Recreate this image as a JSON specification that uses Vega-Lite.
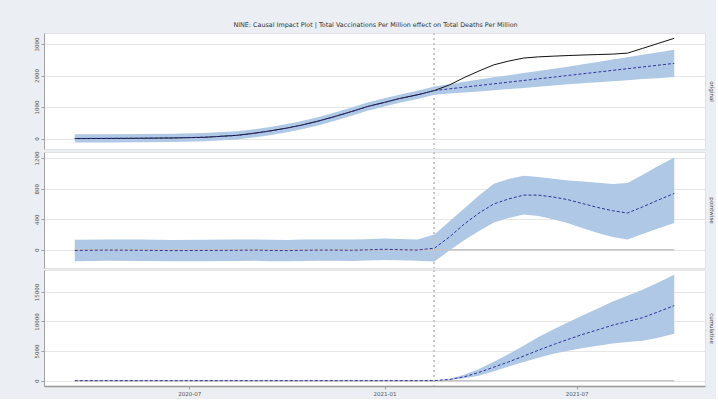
{
  "$schema": "https://vega.github.io/schema/vega-lite/v6.json",
  "background": "#ebeff3",
  "padding": {"top": 21, "left": 5, "right": 2, "bottom": 2},
  "title": {"text": "NINE: Causal Impact Plot | Total Vaccinations Per Million effect on Total Deaths Per Million", "fontSize": 6.4, "fontWeight": "normal", "color": "#333333", "font": "DejaVu Sans", "anchor": "middle", "offset": 4, "dx": 16},
  "data": {"values": [
    {"panel":"original","date":"2020-03-15","actual":0,"pred":5,"lo":-125,"hi":135},
    {"panel":"original","date":"2020-04-15","actual":4,"pred":8,"lo":-122,"hi":138},
    {"panel":"original","date":"2020-05-15","actual":10,"pred":12,"lo":-118,"hi":142},
    {"panel":"original","date":"2020-06-15","actual":20,"pred":22,"lo":-108,"hi":152},
    {"panel":"original","date":"2020-07-15","actual":40,"pred":45,"lo":-85,"hi":175},
    {"panel":"original","date":"2020-08-15","actual":105,"pred":100,"lo":-30,"hi":230},
    {"panel":"original","date":"2020-09-01","actual":175,"pred":170,"lo":40,"hi":300},
    {"panel":"original","date":"2020-09-15","actual":245,"pred":240,"lo":110,"hi":370},
    {"panel":"original","date":"2020-10-01","actual":335,"pred":330,"lo":200,"hi":460},
    {"panel":"original","date":"2020-10-15","actual":430,"pred":425,"lo":295,"hi":555},
    {"panel":"original","date":"2020-11-01","actual":570,"pred":565,"lo":435,"hi":695},
    {"panel":"original","date":"2020-11-15","actual":700,"pred":700,"lo":570,"hi":830},
    {"panel":"original","date":"2020-12-01","actual":860,"pred":855,"lo":725,"hi":985},
    {"panel":"original","date":"2020-12-15","actual":1010,"pred":1005,"lo":875,"hi":1135},
    {"panel":"original","date":"2021-01-01","actual":1150,"pred":1150,"lo":1020,"hi":1280},
    {"panel":"original","date":"2021-01-15","actual":1270,"pred":1265,"lo":1135,"hi":1395},
    {"panel":"original","date":"2021-02-01","actual":1390,"pred":1390,"lo":1260,"hi":1520},
    {"panel":"original","date":"2021-02-17","actual":1525,"pred":1524,"lo":1394,"hi":1654},
    {"panel":"original","date":"2021-03-03","actual":1700,"pred":1578,"lo":1428,"hi":1728},
    {"panel":"original","date":"2021-03-17","actual":1935,"pred":1631,"lo":1461,"hi":1801},
    {"panel":"original","date":"2021-03-31","actual":2145,"pred":1685,"lo":1495,"hi":1875},
    {"panel":"original","date":"2021-04-14","actual":2340,"pred":1738,"lo":1533,"hi":1943},
    {"panel":"original","date":"2021-04-28","actual":2460,"pred":1791,"lo":1571,"hi":2011},
    {"panel":"original","date":"2021-05-12","actual":2555,"pred":1844,"lo":1609,"hi":2079},
    {"panel":"original","date":"2021-05-26","actual":2593,"pred":1897,"lo":1647,"hi":2147},
    {"panel":"original","date":"2021-06-09","actual":2615,"pred":1950,"lo":1685,"hi":2215},
    {"panel":"original","date":"2021-06-23","actual":2635,"pred":2003,"lo":1723,"hi":2283},
    {"panel":"original","date":"2021-07-07","actual":2652,"pred":2057,"lo":1757,"hi":2357},
    {"panel":"original","date":"2021-07-21","actual":2666,"pred":2110,"lo":1790,"hi":2430},
    {"panel":"original","date":"2021-08-04","actual":2680,"pred":2165,"lo":1820,"hi":2510},
    {"panel":"original","date":"2021-08-18","actual":2712,"pred":2218,"lo":1853,"hi":2583},
    {"panel":"original","date":"2021-09-01","actual":2860,"pred":2272,"lo":1887,"hi":2657},
    {"panel":"original","date":"2021-09-15","actual":3010,"pred":2325,"lo":1915,"hi":2735},
    {"panel":"original","date":"2021-10-01","actual":3182,"pred":2386,"lo":1951,"hi":2821},

    {"panel":"pointwise","date":"2020-03-15","pred":-10,"lo":-150,"hi":130},
    {"panel":"pointwise","date":"2020-04-15","pred":-5,"lo":-145,"hi":135},
    {"panel":"pointwise","date":"2020-05-15","pred":-8,"lo":-148,"hi":132},
    {"panel":"pointwise","date":"2020-06-15","pred":-12,"lo":-152,"hi":128},
    {"panel":"pointwise","date":"2020-07-15","pred":-10,"lo":-150,"hi":130},
    {"panel":"pointwise","date":"2020-08-15","pred":-8,"lo":-148,"hi":132},
    {"panel":"pointwise","date":"2020-09-01","pred":-5,"lo":-145,"hi":135},
    {"panel":"pointwise","date":"2020-09-15","pred":-10,"lo":-150,"hi":130},
    {"panel":"pointwise","date":"2020-10-01","pred":-12,"lo":-152,"hi":128},
    {"panel":"pointwise","date":"2020-10-15","pred":-8,"lo":-148,"hi":132},
    {"panel":"pointwise","date":"2020-11-01","pred":-5,"lo":-145,"hi":135},
    {"panel":"pointwise","date":"2020-11-15","pred":-5,"lo":-145,"hi":135},
    {"panel":"pointwise","date":"2020-12-01","pred":-8,"lo":-148,"hi":132},
    {"panel":"pointwise","date":"2020-12-15","pred":-2,"lo":-142,"hi":138},
    {"panel":"pointwise","date":"2021-01-01","pred":5,"lo":-135,"hi":145},
    {"panel":"pointwise","date":"2021-01-15","pred":0,"lo":-140,"hi":140},
    {"panel":"pointwise","date":"2021-02-01","pred":-5,"lo":-145,"hi":135},
    {"panel":"pointwise","date":"2021-02-17","pred":20,"lo":-155,"hi":200},
    {"panel":"pointwise","date":"2021-03-03","pred":165,"lo":-10,"hi":370},
    {"panel":"pointwise","date":"2021-03-17","pred":335,"lo":125,"hi":540},
    {"panel":"pointwise","date":"2021-03-31","pred":480,"lo":245,"hi":710},
    {"panel":"pointwise","date":"2021-04-14","pred":600,"lo":355,"hi":865},
    {"panel":"pointwise","date":"2021-04-28","pred":665,"lo":415,"hi":925},
    {"panel":"pointwise","date":"2021-05-12","pred":715,"lo":460,"hi":970},
    {"panel":"pointwise","date":"2021-05-26","pred":715,"lo":441,"hi":952},
    {"panel":"pointwise","date":"2021-06-09","pred":690,"lo":400,"hi":930},
    {"panel":"pointwise","date":"2021-06-23","pred":655,"lo":345,"hi":905},
    {"panel":"pointwise","date":"2021-07-07","pred":603,"lo":280,"hi":892},
    {"panel":"pointwise","date":"2021-07-21","pred":553,"lo":218,"hi":877},
    {"panel":"pointwise","date":"2021-08-04","pred":510,"lo":165,"hi":862},
    {"panel":"pointwise","date":"2021-08-18","pred":480,"lo":135,"hi":875},
    {"panel":"pointwise","date":"2021-09-01","pred":560,"lo":205,"hi":980},
    {"panel":"pointwise","date":"2021-09-15","pred":645,"lo":275,"hi":1090},
    {"panel":"pointwise","date":"2021-10-01","pred":737,"lo":351,"hi":1209},

    {"panel":"cumulative","date":"2020-03-15","pred":0},
    {"panel":"cumulative","date":"2020-04-15","pred":0},
    {"panel":"cumulative","date":"2020-05-15","pred":0},
    {"panel":"cumulative","date":"2020-06-15","pred":0},
    {"panel":"cumulative","date":"2020-07-15","pred":0},
    {"panel":"cumulative","date":"2020-08-15","pred":0},
    {"panel":"cumulative","date":"2020-09-01","pred":0},
    {"panel":"cumulative","date":"2020-09-15","pred":0},
    {"panel":"cumulative","date":"2020-10-01","pred":0},
    {"panel":"cumulative","date":"2020-10-15","pred":0},
    {"panel":"cumulative","date":"2020-11-01","pred":0},
    {"panel":"cumulative","date":"2020-11-15","pred":0},
    {"panel":"cumulative","date":"2020-12-01","pred":0},
    {"panel":"cumulative","date":"2020-12-15","pred":0},
    {"panel":"cumulative","date":"2021-01-01","pred":0},
    {"panel":"cumulative","date":"2021-01-15","pred":0},
    {"panel":"cumulative","date":"2021-02-01","pred":0},
    {"panel":"cumulative","date":"2021-02-17","pred":10,"lo":0,"hi":20},
    {"panel":"cumulative","date":"2021-03-03","pred":200,"lo":120,"hi":300},
    {"panel":"cumulative","date":"2021-03-17","pred":650,"lo":400,"hi":1000},
    {"panel":"cumulative","date":"2021-03-31","pred":1400,"lo":850,"hi":1970},
    {"panel":"cumulative","date":"2021-04-14","pred":2290,"lo":1600,"hi":3210},
    {"panel":"cumulative","date":"2021-04-28","pred":3180,"lo":2380,"hi":4490},
    {"panel":"cumulative","date":"2021-05-12","pred":4150,"lo":3140,"hi":5920},
    {"panel":"cumulative","date":"2021-05-26","pred":5150,"lo":3870,"hi":7400},
    {"panel":"cumulative","date":"2021-06-09","pred":6090,"lo":4530,"hi":8660},
    {"panel":"cumulative","date":"2021-06-23","pred":6980,"lo":5040,"hi":9890},
    {"panel":"cumulative","date":"2021-07-07","pred":7840,"lo":5510,"hi":11040},
    {"panel":"cumulative","date":"2021-07-21","pred":8600,"lo":5890,"hi":12190},
    {"panel":"cumulative","date":"2021-08-04","pred":9380,"lo":6270,"hi":13360},
    {"panel":"cumulative","date":"2021-08-18","pred":10000,"lo":6520,"hi":14360},
    {"panel":"cumulative","date":"2021-09-01","pred":10630,"lo":6750,"hi":15350},
    {"panel":"cumulative","date":"2021-09-15","pred":11570,"lo":7210,"hi":16500},
    {"panel":"cumulative","date":"2021-10-01","pred":12690,"lo":7920,"hi":17900}
  ]},
  "spacing": 0,
  "vconcat": [
    {
      "transform": [{"filter": "datum.panel == 'original'"}],
      "width": 661, "height": 116,
      "resolve": {"axis": {"y": "independent"}},
      "layer": [
        {"mark": {"type": "area", "color": "#aec8e6", "opacity": 1},
         "encoding": {
           "x": {"field": "date", "type": "temporal", "axis": null, "scale": {"domain": [{"year": 2020, "month": 2, "date": 15}, {"year": 2021, "month": 10, "date": 30}]}},
           "y": {"field": "lo", "type": "quantitative", "title": null, "scale": {"domain": [-330, 3350], "nice": false, "zero": false}, "axis": {"orient": "left", "values": [0, 1000, 2000, 3000], "format": "d", "labelAngle": 270, "labelAlign": "center", "labelBaseline": "bottom", "minExtent": 38, "maxExtent": 38, "grid": true}},
           "y2": {"field": "hi"}
         }},
        {"mark": {"type": "rule", "color": "#c6c6c6", "strokeDash": [2, 3], "strokeWidth": 1},
         "encoding": {"x": {"datum": {"year": 2021, "month": 2, "date": 17}, "type": "temporal"}}},
        {"mark": {"type": "line", "color": "#111111", "strokeWidth": 1},
         "encoding": {
           "x": {"field": "date", "type": "temporal"},
           "y": {"field": "actual", "type": "quantitative", "axis": null}
         }},
        {"mark": {"type": "line", "color": "#33339a", "strokeWidth": 1, "strokeDash": [3, 2]},
         "encoding": {
           "x": {"field": "date", "type": "temporal"},
           "y": {"field": "pred", "type": "quantitative", "axis": {"orient": "right", "title": "original", "labels": false, "ticks": false, "domain": false, "grid": false, "titleAngle": 90, "titleFontSize": 5.5, "titleFontWeight": "normal", "titleColor": "#444444", "titlePadding": 3, "titleFont": "DejaVu Sans"}}
         }}
      ]
    },
    {
      "transform": [{"filter": "datum.panel == 'pointwise'"}],
      "width": 661, "height": 116,
      "resolve": {"axis": {"y": "independent"}},
      "layer": [
        {"mark": {"type": "area", "color": "#aec8e6", "opacity": 1},
         "encoding": {
           "x": {"field": "date", "type": "temporal", "axis": null, "scale": {"domain": [{"year": 2020, "month": 2, "date": 15}, {"year": 2021, "month": 10, "date": 30}]}},
           "y": {"field": "lo", "type": "quantitative", "title": null, "scale": {"domain": [-240, 1280], "nice": false, "zero": false}, "axis": {"orient": "left", "values": [0, 400, 800, 1200], "format": "d", "labelAngle": 270, "labelAlign": "center", "labelBaseline": "bottom", "minExtent": 38, "maxExtent": 38, "grid": true}},
           "y2": {"field": "hi"}
         }},
        {"mark": {"type": "line", "color": "#c4c4c4", "strokeWidth": 1.5},
         "encoding": {
           "x": {"field": "date", "type": "temporal"},
           "y": {"datum": 0, "axis": null}
         }},
        {"mark": {"type": "rule", "color": "#c6c6c6", "strokeDash": [2, 3], "strokeWidth": 1},
         "encoding": {"x": {"datum": {"year": 2021, "month": 2, "date": 17}, "type": "temporal"}}},
        {"mark": {"type": "line", "color": "#33339a", "strokeWidth": 1, "strokeDash": [3, 2]},
         "encoding": {
           "x": {"field": "date", "type": "temporal"},
           "y": {"field": "pred", "type": "quantitative", "axis": {"orient": "right", "title": "pointwise", "labels": false, "ticks": false, "domain": false, "grid": false, "titleAngle": 90, "titleFontSize": 5.5, "titleFontWeight": "normal", "titleColor": "#444444", "titlePadding": 3, "titleFont": "DejaVu Sans"}}
         }}
      ]
    },
    {
      "transform": [{"filter": "datum.panel == 'cumulative'"}],
      "width": 661, "height": 116,
      "resolve": {"axis": {"y": "independent"}},
      "layer": [
        {"mark": {"type": "area", "color": "#aec8e6", "opacity": 1},
         "encoding": {
           "x": {"field": "date", "type": "temporal", "title": null, "scale": {"domain": [{"year": 2020, "month": 2, "date": 15}, {"year": 2021, "month": 10, "date": 30}]}, "axis": {"values": [{"year": 2020, "month": 7, "date": 1}, {"year": 2021, "month": 1, "date": 1}, {"year": 2021, "month": 7, "date": 1}], "format": "%Y-%m", "grid": false, "domainWidth": 1.5, "domainColor": "#999999", "labelPadding": 2}},
           "y": {"field": "lo", "type": "quantitative", "title": null, "scale": {"domain": [-900, 18700], "nice": false, "zero": false}, "axis": {"orient": "left", "values": [0, 5000, 10000, 15000], "format": "d", "labelAngle": 270, "labelAlign": "center", "labelBaseline": "bottom", "minExtent": 38, "maxExtent": 38, "grid": true}},
           "y2": {"field": "hi"}
         }},
        {"mark": {"type": "line", "color": "#c4c4c4", "strokeWidth": 1.5},
         "encoding": {
           "x": {"field": "date", "type": "temporal"},
           "y": {"datum": 0, "axis": null}
         }},
        {"mark": {"type": "rule", "color": "#c6c6c6", "strokeDash": [2, 3], "strokeWidth": 1},
         "encoding": {"x": {"datum": {"year": 2021, "month": 2, "date": 17}, "type": "temporal"}}},
        {"mark": {"type": "line", "color": "#33339a", "strokeWidth": 1, "strokeDash": [3, 2]},
         "encoding": {
           "x": {"field": "date", "type": "temporal"},
           "y": {"field": "pred", "type": "quantitative", "axis": {"orient": "right", "title": "cumulative", "labels": false, "ticks": false, "domain": false, "grid": false, "titleAngle": 90, "titleFontSize": 5.5, "titleFontWeight": "normal", "titleColor": "#444444", "titlePadding": 3, "titleFont": "DejaVu Sans"}}
         }}
      ]
    }
  ],
  "config": {
    "font": "DejaVu Sans",
    "view": {"stroke": "#e2e2e2", "fill": "white"},
    "axis": {"labelFont": "DejaVu Sans", "labelFontSize": 5.5, "labelColor": "#555555", "domainColor": "#a0a0a0", "tickColor": "#a0a0a0", "tickSize": 3, "gridColor": "#e6e6e6", "labelPadding": 2, "labelOverlap": false, "labelFlush": false}
  }
}
